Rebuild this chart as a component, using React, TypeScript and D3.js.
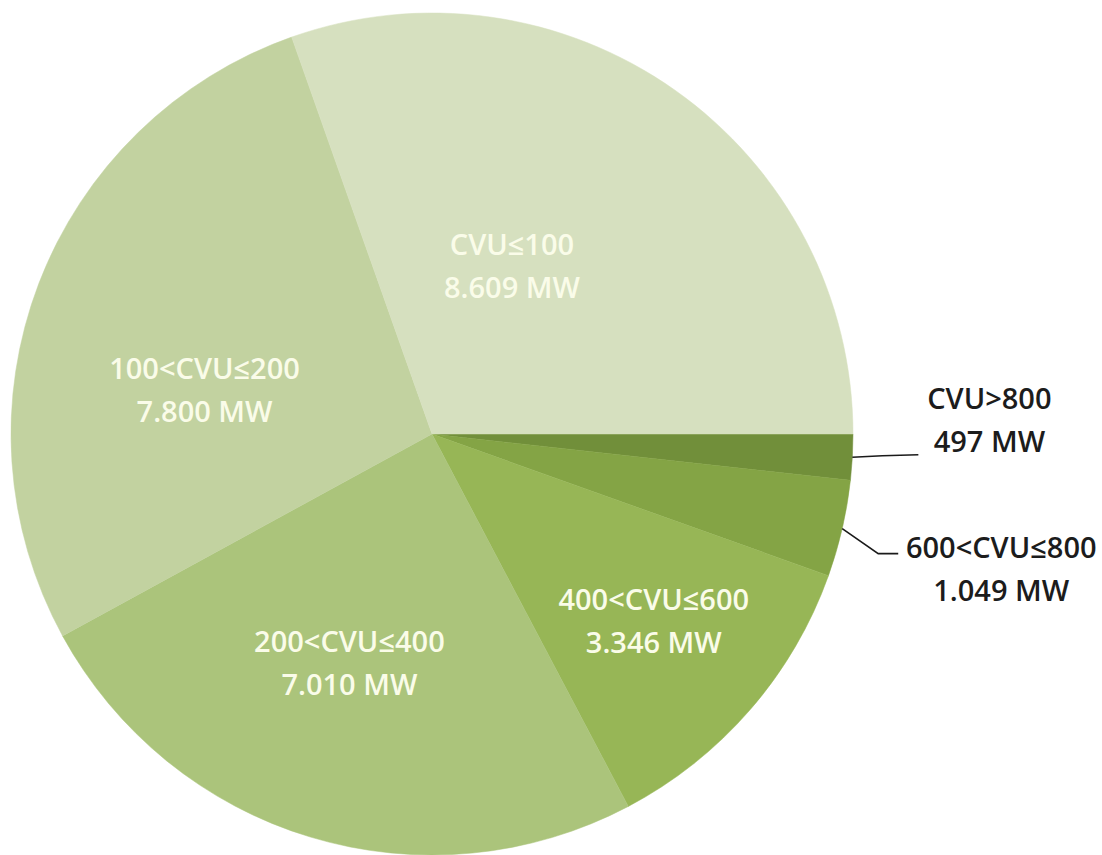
import React from "react";
import * as d3 from "d3";

const categories = ["CVU>800", "600<CVU≤800", "400<CVU≤600", "200<CVU≤400", "100<CVU≤200", "CVU≤100"];
const values = [497, 1049, 3346, 7010, 7800, 8609];
const valueLabels = ["497 MW", "1.049 MW", "3.346 MW", "7.010 MW", "7.800 MW", "8.609 MW"];
const colors = ["#718f3a", "#84a445", "#97b656", "#abc47b", "#c2d2a0", "#d6e0bf"];

// label placement (Excel best-fit): inside labels as polar (radius fraction, angle shift in deg)
const insidePlacement: Record<number, { k: number; shift: number }> = {
  2: { k: 0.69, shift: -0.7 },
  3: { k: 0.58, shift: 3.0 },
  4: { k: 0.55, shift: -10.2 },
  5: { k: 0.44, shift: -9.7 },
};
// outside labels: leader elbow/end offsets and text block offsets relative to leader end
const outsidePlacement: Record<number, { elbow: [number, number]; end: [number, number]; text: [number, number] }> = {
  0: { elbow: [30, -1.5], end: [66, -2.5], text: [71, -34] },
  1: { elbow: [36, 25], end: [56, 25], text: [103, 16] },
};

const W = 1102;
const H = 855;
const cx = 432;
const cy = 434;
const R = 421;
const lineGap = 43;
const fontFamily = "'Open Sans', 'Noto Sans', sans-serif";

export default function App() {
  const pie = d3
    .pie<number>()
    .sort(null)
    .value((d) => d)
    .startAngle(Math.PI / 2)
    .endAngle(Math.PI / 2 + 2 * Math.PI);
  const arcs = pie(values);
  const arcGen = d3.arc<d3.PieArcDatum<number>>().innerRadius(0).outerRadius(R);

  const polar = (angle: number, r: number): [number, number] => [Math.sin(angle) * r, -Math.cos(angle) * r];

  return (
    <svg width={W} height={H} style={{ position: "absolute", left: 0, top: 0, background: "#fff" }}>
      <g transform={`translate(${cx},${cy})`}>
        {arcs.map((a, i) => (
          <path key={i} d={arcGen(a) || ""} fill={colors[i]} stroke={colors[i]} strokeWidth={0.5} />
        ))}
        {arcs.map((a, i) => {
          const mid = (a.startAngle + a.endAngle) / 2;
          const ins = insidePlacement[i];
          if (ins) {
            const [x, y] = polar(mid + (ins.shift * Math.PI) / 180, R * ins.k);
            return (
              <text
                key={"t" + i}
                x={x}
                y={y}
                textAnchor="middle"
                fill="#fafce9"
                fontFamily={fontFamily}
                fontSize={29}
                fontWeight={600}
              >
                <tspan x={x} dy={-lineGap / 2 + 10}>{categories[i]}</tspan>
                <tspan x={x} dy={lineGap}>{valueLabels[i]}</tspan>
              </text>
            );
          }
          const out = outsidePlacement[i];
          const [sx, sy] = polar(mid, R);
          const ex = sx + out.elbow[0];
          const ey = sy + out.elbow[1];
          const fx = sx + out.end[0];
          const fy = sy + out.end[1];
          const tx = fx + out.text[0];
          const ty = fy + out.text[1];
          return (
            <g key={"o" + i}>
              <path d={`M${sx},${sy}L${ex},${ey}L${fx},${fy}`} fill="none" stroke="#1a1a1a" strokeWidth={1.6} />
              <text
                x={tx}
                y={ty}
                textAnchor="middle"
                fill="#1c1c1c"
                fontFamily={fontFamily}
                fontSize={29}
                fontWeight={600}
              >
                <tspan x={tx} dy={-lineGap / 2 + 10}>{categories[i]}</tspan>
                <tspan x={tx} dy={lineGap}>{valueLabels[i]}</tspan>
              </text>
            </g>
          );
        })}
      </g>
    </svg>
  );
}
